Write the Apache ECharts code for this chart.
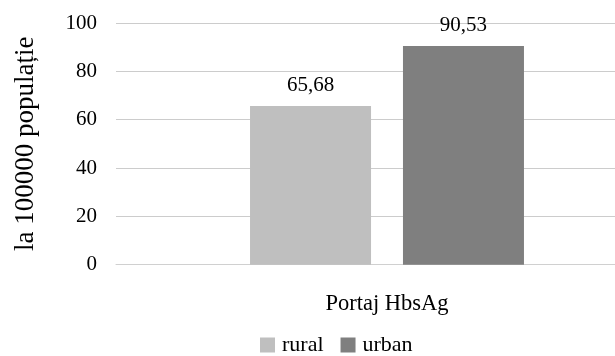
<!DOCTYPE html>
<html>
<head>
<meta charset="utf-8">
<script src="https://cdn.jsdelivr.net/npm/echarts@6/dist/echarts.min.js"></script>
<style>
  html, body { margin: 0; padding: 0; background: #fff; }
  #chart { width: 615px; height: 356px; }
</style>
</head>
<body>
<div id="chart"></div>
<script>
const categories = ['Portaj HbsAg'];
const seriesNames = ['rural', 'urban'];
const ruralValues = [65.68];
const urbanValues = [90.53];
const yTicks = [0, 20, 40, 60, 80, 100];
const colors = ['#bfbfbf', '#7f7f7f'];

const FONT = 'Liberation Serif';
const fmt = v => v.toFixed(2).replace('.', ',');

const chart = echarts.init(document.getElementById('chart'));
chart.setOption({
  animation: false,
  textStyle: { fontFamily: FONT, color: '#000' },
  // plot area runs past the right edge of the canvas
  grid: {
    left: 116, width: 542, top: 23, height: 241.7,
    containLabel: false,
    outerBoundsMode: 'none'
  },
  legend: {
    data: seriesNames,
    left: 260,
    top: 334,
    padding: 0,
    itemWidth: 15,
    itemHeight: 15,
    itemGap: 17,
    icon: 'rect',
    textStyle: { fontFamily: FONT, fontSize: 22, color: '#000', padding: [0, 0, 0, 2] }
  },
  xAxis: {
    type: 'category',
    data: categories,
    axisLine: { show: true, lineStyle: { color: '#d0d0d0', width: 1 } },
    axisTick: { show: false },
    axisLabel: { fontFamily: FONT, fontSize: 22.5, color: '#000', margin: 28 }
  },
  yAxis: {
    type: 'value',
    min: yTicks[0],
    max: yTicks[yTicks.length - 1],
    interval: yTicks[1] - yTicks[0],
    name: 'la 100000 populație',
    nameLocation: 'middle',
    nameGap: 77,
    nameRotate: 90,
    nameTextStyle: { fontFamily: FONT, fontSize: 27, color: '#000' },
    axisLine: { show: false },
    axisTick: { show: false },
    axisLabel: { fontFamily: FONT, fontSize: 21, color: '#000', margin: 19 },
    splitLine: { lineStyle: { color: '#cccccc', width: 1 } }
  },
  series: [
    {
      name: seriesNames[0],
      type: 'bar',
      data: ruralValues,
      barWidth: 121,
      barGap: '26.4%',
      itemStyle: { color: colors[0] },
      label: { show: true, position: 'top', distance: 10, fontFamily: FONT, fontSize: 21, color: '#000', formatter: p => fmt(p.value) }
    },
    {
      name: seriesNames[1],
      type: 'bar',
      data: urbanValues,
      barWidth: 121,
      itemStyle: { color: colors[1] },
      label: { show: true, position: 'top', distance: 10, fontFamily: FONT, fontSize: 21, color: '#000', formatter: p => fmt(p.value) }
    }
  ]
});
</script>
</body>
</html>
